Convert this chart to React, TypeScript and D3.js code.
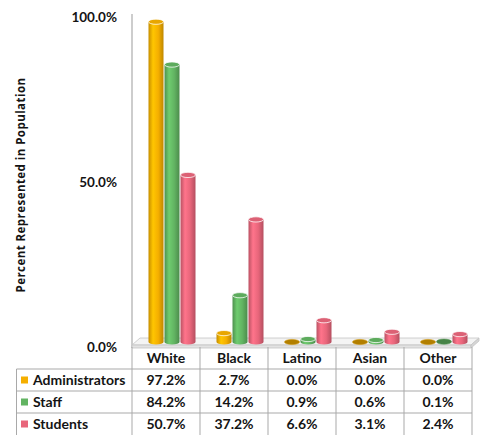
import React from "react";
import * as d3 from "d3";

const categories = ["White", "Black", "Latino", "Asian", "Other"];
const seriesNames = ["Administrators", "Staff", "Students"];
const administrators = [97.2, 2.7, 0.0, 0.0, 0.0];
const staff = [84.2, 14.2, 0.9, 0.6, 0.1];
const students = [50.7, 37.2, 6.6, 3.1, 2.4];
const yTicks = [0, 50, 100];
const seriesColors = ["#F5AF00", "#62B462", "#E8667B"];

const W = 480;
const H = 435;
const FONT = "Lato, 'Open Sans', sans-serif";

export default function App() {
  const seriesValues = [administrators, staff, students];

  // category columns of the data table / plot
  const x = d3.scaleBand<string>().domain(categories).range([132, 472]).paddingInner(0).paddingOuter(0);
  // bars stand on the middle of the floor's depth
  const y = d3.scaleLinear().domain([0, 100]).range([342, 12.5]);
  // axis labels sit on the front edge
  const yFront = d3.scaleLinear().domain([0, 100]).range([347, 17.5]);
  const fmt = (v: number) => d3.format(".1f")(v) + "%";

  const r = 7.5;
  const ry = 2.6;
  const depthShift = 6;
  const barStep = 16;

  const rowTop = 347;
  const rowH = 22;
  const tableLeft = 16.5;
  const grid = "#a9a9a9";
  const ink = "#141414";

  return (
    <svg
      width={W}
      height={H}
      style={{ position: "absolute", left: 0, top: 0, background: "#fff" }}
      fontFamily={FONT}
    >
      <defs>
        {seriesColors.map((c, i) => {
          const base = d3.color(c)!;
          return (
            <linearGradient id={`cyl${i}`} key={i} x1="0" x2="1" y1="0" y2="0">
              <stop offset="0" stopColor={base.darker(0.6).toString()} />
              <stop offset="0.3" stopColor={base.brighter(0.35).toString()} />
              <stop offset="0.65" stopColor={base.toString()} />
              <stop offset="1" stopColor={base.darker(0.7).toString()} />
            </linearGradient>
          );
        })}
      </defs>

      {/* y-axis title */}
      <text
        transform={`translate(25,185) rotate(-90)`}
        textAnchor="middle"
        fontFamily="'Open Sans', sans-serif"
        fontSize={11.5}
        letterSpacing={0.45}
        fontWeight="bold"
        fill={ink}
      >
        Percent Represented in Population
      </text>

      {/* y tick labels */}
      {yTicks.map((t) => (
        <text
          key={t}
          x={117}
          y={yFront(t)}
          dy="0.35em"
          textAnchor="end"
          fontSize={13.5}
          fontWeight="bold"
          fill={ink}
        >
          {fmt(t)}
        </text>
      ))}

      {/* wall line */}
      <line x1={132} x2={132} y1={14} y2={348} stroke="#bdbdbd" strokeWidth={1.5} />

      {/* floor */}
      <polygon points="132,345 471,345 479,338 140,338" fill="#f4f4f4" stroke="#c4c4c4" strokeWidth={0.8} />
      <polygon points="132,345 471,345 471,348 132,348" fill="#e2e2e2" stroke="#c4c4c4" strokeWidth={0.8} />
      <polygon points="471,345 479,338 479,341 471,348" fill="#d6d6d6" stroke="#c4c4c4" strokeWidth={0.8} />

      {/* cylinders */}
      {categories.map((cat, ci) =>
        seriesValues.map((vals, si) => {
          const v = vals[ci];
          const cx = (x(cat) as number) + x.bandwidth() / 2 + depthShift + (si - 1) * barStep;
          const top = y(v);
          const base = y(0);
          const col = d3.color(seriesColors[si])!;
          const flat = v < 0.5;
          const body = `M${cx - r},${top} L${cx - r},${base} A${r},${ry} 0 0 0 ${cx + r},${base} L${cx + r},${top} Z`;
          return (
            <g key={`${ci}-${si}`}>
              {!flat && <path d={body} fill={`url(#cyl${si})`} />}
              <ellipse
                cx={cx}
                cy={top}
                rx={r}
                ry={ry}
                fill={flat ? col.darker(0.9).toString() : col.darker(0.15).toString()}
                stroke={flat ? col.darker(0.5).toString() : "#ffffff"}
                strokeOpacity={flat ? 0.6 : 0.85}
                strokeWidth={0.9}
              />
            </g>
          );
        })
      )}

      {/* data table grid */}
      <g stroke={grid} strokeWidth={1}>
        {[...categories.map((c) => x(c) as number), 472].map((gx, i) => (
          <line key={`v${i}`} x1={gx} x2={gx} y1={rowTop} y2={H} />
        ))}
        <line x1={tableLeft} x2={tableLeft} y1={rowTop + rowH} y2={H} />
        {seriesNames.map((_, i) => (
          <line key={`h${i}`} x1={tableLeft} x2={472} y1={rowTop + rowH * (i + 1)} y2={rowTop + rowH * (i + 1)} />
        ))}
      </g>

      {/* category header */}
      {categories.map((cat) => (
        <text
          key={cat}
          x={(x(cat) as number) + x.bandwidth() / 2}
          y={rowTop + rowH / 2}
          dy="0.36em"
          textAnchor="middle"
          fontSize={14}
          fontWeight="bold"
          fill={ink}
        >
          {cat}
        </text>
      ))}

      {/* series rows */}
      {seriesNames.map((name, si) => {
        const cy = rowTop + rowH * (si + 1) + rowH / 2;
        return (
          <g key={name}>
            <rect x={21} y={cy - 3.5} width={7} height={7} fill={seriesColors[si]} />
            <text x={33} y={cy} dy="0.36em" fontSize={14} fontWeight="bold" fill={ink}>
              {name}
            </text>
            {categories.map((cat, ci) => (
              <text
                key={cat}
                x={(x(cat) as number) + x.bandwidth() / 2}
                y={cy}
                dy="0.36em"
                textAnchor="middle"
                fontSize={14}
                fontWeight="bold"
                fill={ink}
              >
                {fmt(seriesValues[si][ci])}
              </text>
            ))}
          </g>
        );
      })}
    </svg>
  );
}
